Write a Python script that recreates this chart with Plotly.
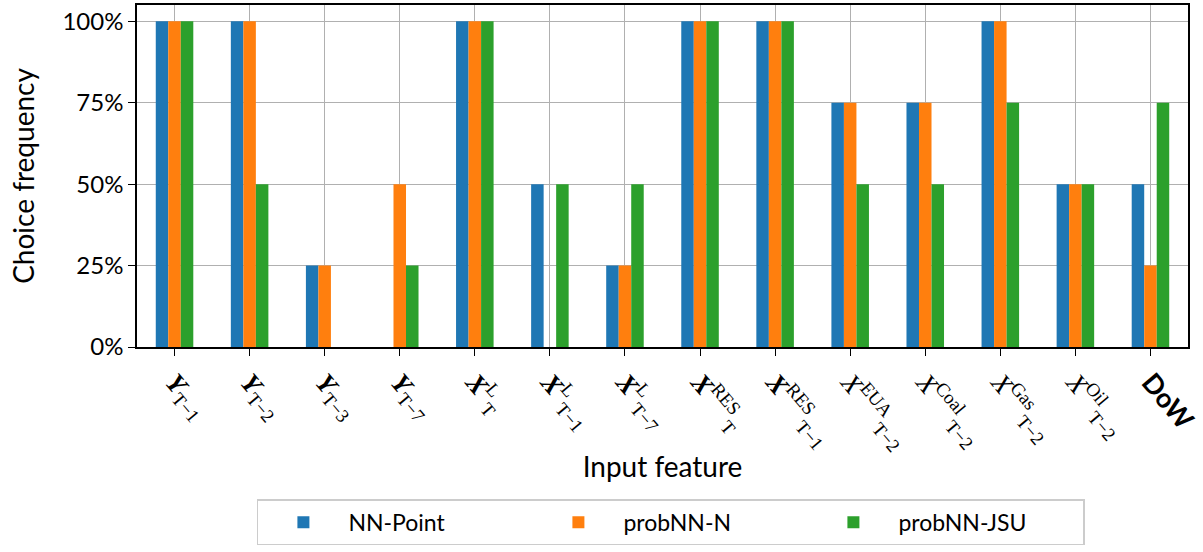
import plotly.graph_objects as go

categories = [
    '<span style="font-family:Liberation Serif"><b><i>Y</i></b><sub>T−1</sub></span>',
    '<span style="font-family:Liberation Serif"><b><i>Y</i></b><sub>T−2</sub></span>',
    '<span style="font-family:Liberation Serif"><b><i>Y</i></b><sub>T−3</sub></span>',
    '<span style="font-family:Liberation Serif"><b><i>Y</i></b><sub>T−7</sub></span>',
    '<span style="font-family:Liberation Serif"><b><i>X</i></b><sup>L</sup><sub>T</sub></span>',
    '<span style="font-family:Liberation Serif"><b><i>X</i></b><sup>L</sup><sub>T−1</sub></span>',
    '<span style="font-family:Liberation Serif"><b><i>X</i></b><sup>L</sup><sub>T−7</sub></span>',
    '<span style="font-family:Liberation Serif"><b><i>X</i></b><sup>RES</sup><sub>T</sub></span>',
    '<span style="font-family:Liberation Serif"><b><i>X</i></b><sup>RES</sup><sub>T−1</sub></span>',
    '<span style="font-family:Liberation Serif"><i>X</i><sup>EUA</sup><sub>T−2</sub></span>',
    '<span style="font-family:Liberation Serif"><i>X</i><sup>Coal</sup><sub>T−2</sub></span>',
    '<span style="font-family:Liberation Serif"><i>X</i><sup>Gas</sup><sub>T−2</sub></span>',
    '<span style="font-family:Liberation Serif"><i>X</i><sup>Oil</sup><sub>T−2</sub></span>',
    '<b>DoW</b>',
]
nn_point = [100, 100, 25, 0, 100, 50, 25, 100, 100, 75, 75, 100, 50, 50]
prob_n = [100, 100, 25, 50, 100, 0, 25, 100, 100, 75, 75, 100, 50, 25]
prob_jsu = [100, 50, 0, 25, 100, 50, 50, 100, 100, 50, 50, 75, 50, 75]
y_ticks = [0, 25, 50, 75, 100]
y_tick_text = ["0%", "25%", "50%", "75%", "100%"]

series = [("NN-Point", nn_point, "#1f77b4"),
          ("probNN-N", prob_n, "#ff7f0e"),
          ("probNN-JSU", prob_jsu, "#2ca02c")]

x_idx = list(range(len(categories)))
fig = go.Figure()
for name, vals, col in series:
    fig.add_trace(go.Bar(x=x_idx, y=vals, name=name, marker=dict(color=col, line=dict(width=0))))

fig.update_layout(
    width=1203, height=552,
    margin=dict(l=137, r=15, t=5, b=205, autoexpand=False),
    barmode="group", bargap=0.5, bargroupgap=0,
    plot_bgcolor="white", paper_bgcolor="white",
    font=dict(family="Lato, DejaVu Sans, sans-serif", color="black", size=22),
    legend=dict(orientation="h", x=0.508, xanchor="center", y=-0.445, yanchor="top",
                bgcolor="white", bordercolor="#cccccc", borderwidth=1.5,
                font=dict(size=23), itemwidth=80, entrywidth=180, entrywidthmode="pixels"),
)
fig.update_xaxes(
    range=[-0.5, 13.5], tickmode="array", tickvals=x_idx, ticktext=categories,
    tickangle=50, tickfont=dict(size=27, color="black"), automargin=False,
    showgrid=True, gridcolor="#b0b0b0", gridwidth=1,
    showline=True, linecolor="black", linewidth=1.5, mirror=True,
    ticks="outside", ticklen=7, tickcolor="black",
    title=dict(text="Input feature", font=dict(size=28), standoff=2),
)
fig.update_yaxes(
    range=[0, 105], tickmode="array", tickvals=y_ticks, ticktext=y_tick_text,
    tickfont=dict(size=24), automargin=False,
    showgrid=True, gridcolor="#b0b0b0", gridwidth=1,
    showline=True, linecolor="black", linewidth=1.5, mirror=True,
    ticks="outside", ticklen=7, tickcolor="black", zeroline=False,
    title=dict(text="Choice frequency", font=dict(size=28), standoff=20),
)
fig.write_html("out.html", config={"displayModeBar": False},
               post_script="document.body.style.margin='0';document.body.style.overflow='hidden';")
